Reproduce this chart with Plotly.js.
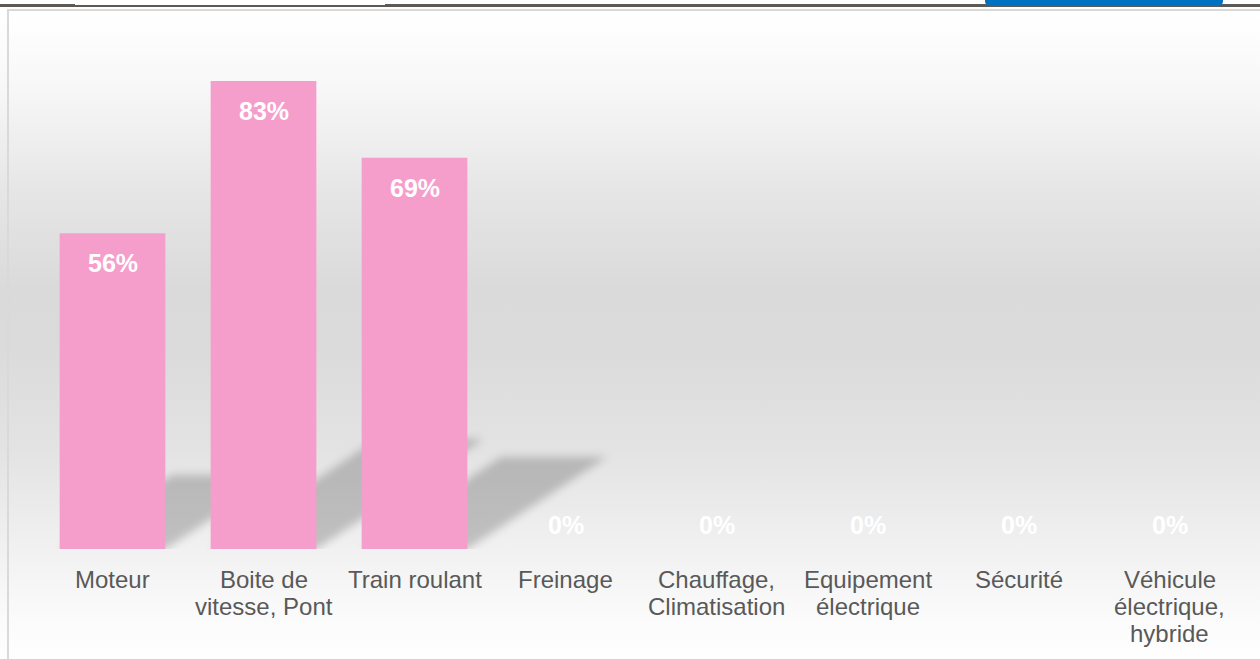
<!DOCTYPE html>
<html>
<head>
<meta charset="utf-8">
<script src="https://cdn.plot.ly/plotly-3.0.1.min.js"></script>
<style>
  html, body { margin:0; padding:0; width:1260px; height:659px; overflow:hidden; background:#ffffff; }
  #wrap { position:absolute; left:0; top:0; width:1260px; height:659px;
    background: linear-gradient(to bottom, #ffffff 0px, #ffffff 14px, #f7f7f7 90px, #e6e6e6 190px, #dadada 290px, #dbdbdb 350px, #e3e3e3 450px, #f1f1f1 550px, #fbfbfb 620px, #fefefe 659px); }
  #chart { position:absolute; left:0; top:0; width:1260px; height:659px; }
  .strip { position:absolute; left:0; top:4px; width:1260px; height:3px; background:#5e5955; }
  .tab { position:absolute; left:75px; top:0; width:310px; height:5px; background:#ffffff; }
  .btn { position:absolute; left:985px; top:0; width:238px; height:5px; background:#0070c0; border-radius:0 0 4px 4px; }
  .ftop { position:absolute; left:7px; top:9px; width:1253px; height:2px; background:#d9d9d9; }
  .fleft { position:absolute; left:7px; top:9px; width:2px; height:650px; background:#d9d9d9; }
  .gapw { position:absolute; left:0; top:7px; width:1260px; height:2px; background:#ffffff; }
</style>
</head>
<body>
<div id="wrap"></div>
<div class="gapw"></div>
<div class="strip"></div>
<div class="tab"></div>
<div class="btn"></div>
<div class="ftop"></div>
<div class="fleft"></div>
<div id="chart"></div>
<script>
const categories = ["Moteur", "Boite de<br>vitesse, Pont", "Train roulant", "Freinage",
  "Chauffage,<br>Climatisation", "Equipement<br>électrique", "Sécurité", "Véhicule<br>électrique,<br>hybride"];
const values = [56, 83, 69.4, 0, 0, 0, 0, 0];
const labels = ["56%", "83%", "69%", "0%", "0%", "0%", "0%", "0%"];

const idx = categories.map((c, i) => i);
const barHalf = 0.35;
const FONT = 'Liberation Sans, Arial, sans-serif';

// perspective shadows derived from bar values
const shapes = values.map((v, i) => {
  if (v <= 0) return null;
  const dx = v * 0.0133, dy = v * 0.235;
  return {
    type: 'path', xref: 'x', yref: 'y', layer: 'below',
    path: `M ${i - barHalf} 0 L ${i + barHalf} 0 L ${i + barHalf + dx} ${dy} L ${i - barHalf + dx} ${dy} Z`,
    fillcolor: 'rgba(0,0,0,0.2)', line: { width: 0 }
  };
}).filter(s => s);

const annotations = values.map((v, i) => ({
  x: i, y: v, xref: 'x', yref: 'y', text: labels[i], showarrow: false,
  yshift: v > 0 ? -30 : 24,
  font: { family: FONT, size: 25, color: '#ffffff', weight: 'bold' }
}));

// category labels, one annotation per line (tighter line spacing than tick labels)
categories.forEach((c, i) => {
  c.split('<br>').forEach((line, j) => {
    annotations.push({
      x: i, y: 0, xref: 'x', yref: 'y', text: line, showarrow: false,
      yanchor: 'middle', yshift: -(30 + 27 * j),
      font: { family: FONT, size: 24, color: '#595959' }
    });
  });
});

const trace = {
  type: 'bar', x: idx, y: values, width: 0.7,
  marker: { color: '#f69ecb', line: { width: 0 } },
  hoverinfo: 'none'
};

const layout = {
  width: 1260, height: 659,
  margin: { l: 37, r: 15, t: 10, b: 110 },
  paper_bgcolor: 'rgba(0,0,0,0)', plot_bgcolor: 'rgba(0,0,0,0)',
  showlegend: false,
  xaxis: {
    type: 'linear', range: [-0.5, 7.5], tickmode: 'array', tickvals: idx, ticktext: categories,
    showgrid: false, zeroline: false, showline: false, ticks: '', showticklabels: false,
    fixedrange: true
  },
  yaxis: {
    range: [0, 95.6], showgrid: false, zeroline: false, showline: false,
    showticklabels: false, ticks: '', fixedrange: true
  },
  shapes: shapes,
  annotations: annotations
};

Plotly.newPlot('chart', [trace], layout, { staticPlot: true, displayModeBar: false }).then(gd => {
  const svg = gd.querySelector('svg.main-svg');
  const ns = 'http://www.w3.org/2000/svg';
  let defs = svg.querySelector('defs');
  if (!defs) { defs = document.createElementNS(ns, 'defs'); svg.insertBefore(defs, svg.firstChild); }
  const f = document.createElementNS(ns, 'filter');
  f.setAttribute('id', 'shblur');
  f.setAttribute('x', '-30%'); f.setAttribute('y', '-30%');
  f.setAttribute('width', '160%'); f.setAttribute('height', '160%');
  const b = document.createElementNS(ns, 'feGaussianBlur');
  b.setAttribute('stdDeviation', '4');
  f.appendChild(b);
  defs.appendChild(f);
  gd.querySelectorAll('.shapelayer path').forEach(p => {
    p.setAttribute('filter', 'url(#shblur)');
    p.style.filter = 'blur(4px)';
  });
});
</script>
</body>
</html>
